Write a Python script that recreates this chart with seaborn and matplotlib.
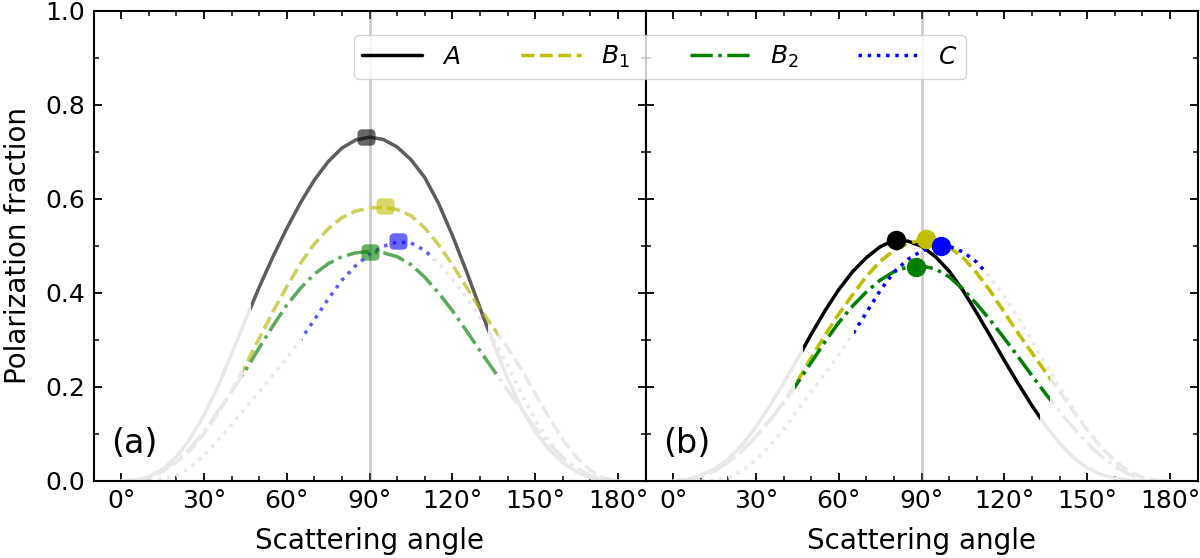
import numpy as np
import pandas as pd
import seaborn as sns
import matplotlib.pyplot as plt
from matplotlib.lines import Line2D
from matplotlib.markers import MarkerStyle
from matplotlib.patches import BoxStyle, Rectangle
from matplotlib.ticker import MultipleLocator

# scattering angle grid (deg) on which the curves were read
angles = list(range(0, 181, 5))

labels = [r"$A$", r"$B_1$", r"$B_2$", r"$C$"]
tick_angles = list(range(0, 181, 30))

# panel (a)
pol_a_A = [0, .002, .009, .025, .052, .09, .14, .2, .27, .342, .412, .477, .537,
           .592, .64, .679, .708, .725, .731, .726, .71, .683, .645, .59, .522, .447,
           .368, .29, .218, .155, .105, .067, .039, .019, .007, .001, 0]
pol_a_B1 = [0, .001, .007, .02, .04, .065, .1, .143, .192, .246, .303, .36, .413,
            .463, .504, .536, .56, .574, .58, .582, .577, .564, .538, .502, .46, .413,
            .366, .325, .283, .237, .186, .135, .088, .05, .022, .006, 0]
pol_a_B2 = [0, .001, .008, .022, .043, .07, .105, .148, .19, .235, .283, .33, .374,
            .41, .44, .462, .477, .485, .488, .485, .477, .46, .433, .4, .362, .32,
            .277, .235, .193, .152, .113, .079, .05, .027, .011, .003, 0]
pol_a_C = [0, 0, .001, .004, .011, .028, .055, .087, .12, .155, .19, .225, .262,
           .3, .343, .387, .427, .458, .482, .499, .508, .506, .49, .463, .428, .39,
           .348, .3, .245, .185, .13, .085, .05, .025, .009, .002, 0]

# panel (b)
pol_b_A = [0, .003, .012, .026, .047, .077, .115, .16, .208, .259, .312, .362, .407,
           .445, .475, .498, .512, .51, .499, .477, .446, .405, .357, .307, .256, .207,
           .16, .117, .08, .05, .028, .014, .006, .002, 0, 0, 0]
pol_b_B1 = [0, .002, .01, .022, .04, .065, .095, .13, .168, .212, .262, .31, .355,
            .396, .435, .467, .49, .505, .512, .51, .497, .475, .442, .403, .358, .314,
            .272, .231, .19, .148, .108, .072, .043, .021, .007, .001, 0]
pol_b_B2 = [0, .002, .01, .022, .04, .064, .094, .128, .165, .208, .252, .296, .337,
            .372, .402, .427, .445, .455, .457, .451, .434, .408, .376, .341, .303, .264,
            .224, .185, .148, .113, .081, .053, .031, .015, .005, .001, 0]
pol_b_C = [0, 0, 0, .002, .007, .022, .045, .075, .11, .15, .19, .228, .268,
           .312, .358, .405, .444, .471, .489, .499, .499, .487, .465, .432, .392, .347,
           .298, .248, .199, .152, .109, .072, .042, .02, .007, .001, 0]

# observed angle range for each series
range_lo = [47, 44, 44, 65.5]
range_hi = [133, 136.5, 136.5, 113]

# peak positions
peak_a_angle = [88.6, 95.5, 90.0, 100.4]
peak_a_value = [0.731, 0.584, 0.487, 0.511]
peak_b_angle = [80.9, 91.5, 88.0, 97.1]
peak_b_value = [0.512, 0.514, 0.455, 0.500]

colors = ["black", "#bfbf00", "#008000", "#0000ff"]
styles = ["-", "--", "-.", ":"]

sns.set_theme(style="ticks", rc={
    "axes.edgecolor": "black",
    "axes.linewidth": 1.5,
    "xtick.direction": "in",
    "ytick.direction": "in",
    "xtick.top": True,
    "ytick.right": True,
    "xtick.major.size": 6,
    "ytick.major.size": 6,
    "xtick.minor.size": 3.5,
    "ytick.minor.size": 3.5,
    "xtick.major.width": 1.3,
    "ytick.major.width": 1.3,
    "xtick.minor.width": 1.1,
    "ytick.minor.width": 1.1,
    "xtick.major.pad": 6,
    "ytick.major.pad": 6,
    "xtick.color": "black",
    "ytick.color": "black",
    "xtick.labelsize": 18,
    "ytick.labelsize": 18,
    "axes.labelsize": 20,
    "axes.labelcolor": "black",
    "text.color": "black",
})
plt.rcParams["font.family"] = ["DejaVu Sans"]

rounded_sq = MarkerStyle(BoxStyle("Round", pad=0, rounding_size=0.3)(-0.55, -0.5, 1.1, 1.0, 1.0))


def draw_panel(ax, curves, peak_x, peak_y, alpha, marker, ms, tag):
    ax.axvline(90, color="gray", alpha=0.4, lw=2, zorder=1)
    # full curves in light grey
    for vals, ls in zip(curves, styles):
        sns.lineplot(x=angles, y=vals, ax=ax, color="0.91", linestyle=ls, lw=2.5,
                     errorbar=None, zorder=2)
    # coloured part over the observed range
    for vals, c, ls, lo, hi in zip(curves, colors, styles, range_lo, range_hi):
        sns.lineplot(x=angles, y=vals, ax=ax, color=c, linestyle=ls, lw=2.5,
                     alpha=alpha, errorbar=None, zorder=3)
        ax.lines[-1].set_clip_path(Rectangle((lo, -1), hi - lo, 3, transform=ax.transData))
    for px, py, c in zip(peak_x, peak_y, colors):
        ax.plot([px], [py], ls="none", marker=marker, ms=ms, mew=0, color=c,
                alpha=alpha, zorder=4)
    ax.text(0.032, 0.045, tag, transform=ax.transAxes, fontsize=24,
            ha="left", va="bottom")
    ax.set_xlim(-10, 190)
    ax.set_ylim(0, 1)
    ax.xaxis.set_minor_locator(MultipleLocator(10))
    ax.yaxis.set_major_locator(MultipleLocator(0.2))
    ax.yaxis.set_minor_locator(MultipleLocator(0.1))
    ax.set_xticks(tick_angles)
    ax.set_xticklabels([f"{a}°" for a in tick_angles])
    ax.set_xlabel("Scattering angle", labelpad=10)


fig, (ax1, ax2) = plt.subplots(1, 2, figsize=(12, 5.58), dpi=100, sharey=True)
plt.subplots_adjust(left=0.078, right=0.998, top=0.981, bottom=0.138, wspace=0)

draw_panel(ax1, [pol_a_A, pol_a_B1, pol_a_B2, pol_a_C], peak_a_angle, peak_a_value,
           0.6, rounded_sq, 13, "(a)")
draw_panel(ax2, [pol_b_A, pol_b_B1, pol_b_B2, pol_b_C], peak_b_angle, peak_b_value,
           1.0, "o", 14, "(b)")

ax1.set_ylabel("Polarization fraction", labelpad=10)
ax1.yaxis.set_major_formatter(plt.FormatStrFormatter("%.1f"))
ax2.tick_params(labelleft=False)

handles = [Line2D([], [], color=c, ls=ls, lw=2.5) for c, ls in zip(colors, styles)]
fig.legend(handles, labels, loc="upper center", bbox_to_anchor=(0.55, 0.937),
           ncol=4, fontsize=18, handlelength=2.4, handletextpad=0.8,
           columnspacing=2.4, borderpad=0.35, borderaxespad=0, fancybox=True)

fig.savefig("out.png", dpi=100)
